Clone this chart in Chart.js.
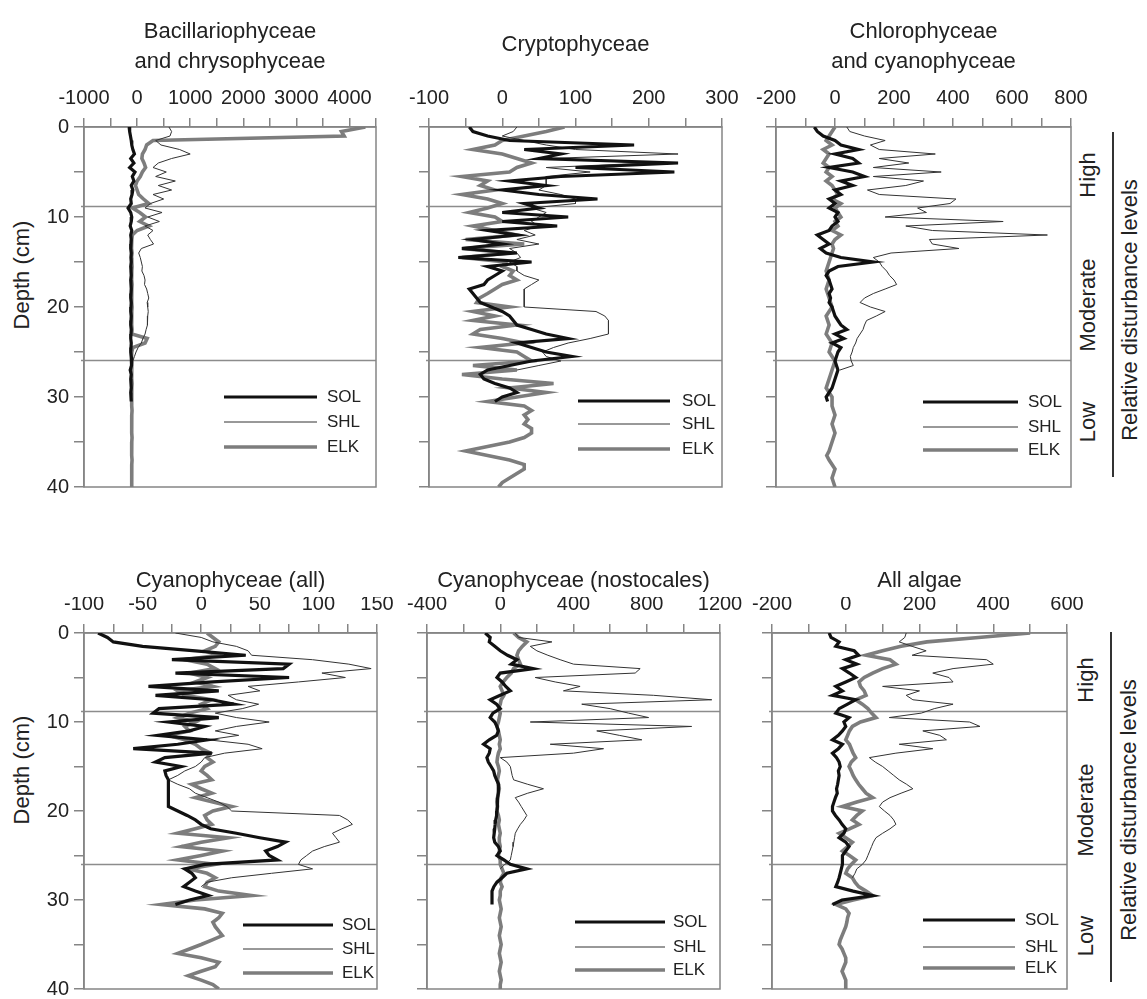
<!DOCTYPE html>
<html><head><meta charset="utf-8">
<script src="https://cdn.jsdelivr.net/npm/chart.js@4.4.0/dist/chart.umd.min.js"></script>
<style>
html,body{margin:0;padding:0;background:#fff;}
#wrap{position:relative;width:1147px;height:999px;overflow:hidden;background:#fff;font-family:"Liberation Sans",Arial,Helvetica,sans-serif;color:#222;}
#wrap canvas{position:absolute;}
.rot{position:absolute;white-space:nowrap;transform:translate(-50%,-50%) rotate(-90deg);line-height:1;}
.vline{position:absolute;width:2px;background:#333;}
</style></head><body><div id="wrap">
<div class="rot" style="left:22px;top:275px;font-size:22px;">Depth (cm)</div>
<div class="rot" style="left:22px;top:770px;font-size:22px;">Depth (cm)</div>
<div class="rot" style="left:1088px;top:175px;font-size:22px;">High</div>
<div class="rot" style="left:1088px;top:305px;font-size:22px;">Moderate</div>
<div class="rot" style="left:1088px;top:422px;font-size:22px;">Low</div>
<div class="rot" style="left:1130px;top:310px;font-size:22px;">Relative disturbance levels</div>
<div class="vline" style="left:1112px;top:132px;height:345px;"></div>
<div class="rot" style="left:1086px;top:680px;font-size:22px;">High</div>
<div class="rot" style="left:1086px;top:810px;font-size:22px;">Moderate</div>
<div class="rot" style="left:1086px;top:936px;font-size:22px;">Low</div>
<div class="rot" style="left:1129px;top:810px;font-size:22px;">Relative disturbance levels</div>
<div class="vline" style="left:1110px;top:632px;height:350px;"></div>
</div>
<script>
// ---------- data ----------
const depthSOL=[0,0.5,1,1.5,2,2.5,3,3.5,4,4.5,5,5.5,6,6.5,7,7.5,8,8.5,9,9.5,10,10.5,11,11.5,12,12.5,13,13.5,14,14.5,15,15.5,16,16.5,17,17.5,18,18.5,19,19.5,20,20.5,21,21.5,22,22.5,23,23.5,24,24.5,25,25.5,26,26.5,27,27.5,28,28.5,29,29.5,30,30.5];
const depthSHL=[0,0.5,1,1.5,2,2.5,3,3.5,4,4.5,5,5.5,6,6.5,7,7.5,8,8.5,9,9.5,10,10.5,11,11.5,12,12.5,13,13.5,14,14.5,15,15.5,16,16.5,17,17.5,18,18.5,19,19.5,20,20.5,21,21.5,22,22.5,23,23.5,24,24.5,25,25.5,26,26.5,27,27.5,28,28.5];
const depthELK=[0,0.5,1,1.5,2,2.5,3,3.5,4,4.5,5,5.5,6,6.5,7,7.5,8,8.5,9,9.5,10,10.5,11,11.5,12,12.5,13,13.5,14,14.5,15,15.5,16,16.5,17,17.5,18,18.5,19,19.5,20,20.5,21,21.5,22,22.5,23,23.5,24,24.5,25,25.5,26,26.5,27,27.5,28,28.5,29,29.5,30,30.5,31,31.5,32,32.5,33,33.5,34,34.5,35,35.5,36,36.5,37,37.5,38,38.5,39,39.5,40];
const zoneDepths=[8.8,25.9];
const seriesNames=['SOL','SHL','ELK'];

// Bacillariophyceae and chrysophyceae
const bacSOL=[-150,-140,-125,-110,-100,-80,-50,-120,-60,-140,
-40,-90,-60,-110,-80,-95,-120,-110,-170,-120,
-100,-110,-130,-100,-120,-110,-115,-120,-110,-115,
-110,-120,-115,-110,-120,-115,-110,-115,-120,-110,
-115,-120,-110,-115,-120,-110,-115,-120,-110,-115,
-120,-110,-100,-110,-130,-110,-120,-115,-110,-120,
-115,-110];
const bacSHL=[600,650,620,350,450,800,1000,650,400,300,
550,350,720,400,650,300,500,250,150,470,
200,420,150,300,200,250,310,80,30,60,
80,100,90,130,150,140,180,200,220,190,
200,210,200,190,200,170,150,110,80,20,
-20,-50,-80];
const bacELK=[4300,3850,3900,300,180,150,100,90,130,160,
100,60,0,-30,0,30,120,220,-90,50,
160,50,220,0,-90,-100,-110,-100,-95,-105,
-100,-95,-100,-105,-100,-95,-100,-100,-105,-100,
-95,-100,-100,-105,-100,-95,-100,190,150,-80,
-100,-105,-95,-100,-100,-105,-100,-95,-100,-100,
-100,-105,-100,-95,-100,-100,-105,-100,-100,-95,
-100,-100,-105,-100,-95,-100,-100,-105,-100,-100,
-100];

// Cryptophyceae
const crySOL=[-45,-40,-20,10,180,30,80,50,240,100,
235,80,10,60,0,50,130,30,50,0,
90,0,75,-20,20,-40,0,-55,20,-60,
40,-20,0,-10,-20,-25,-45,-40,-35,-30,
-15,0,10,15,20,40,60,90,20,40,
60,95,40,10,-20,-30,-25,-10,10,20,
0,-10];
const crySHL=[20,15,0,30,60,100,240,60,200,60,
120,60,60,60,50,80,100,100,40,60,
50,40,50,30,45,20,50,10,20,25,
10,20,20,30,50,40,30,30,30,30,
30,128,140,145,145,145,145,120,90,70,
55,60,80,50,20];
const cryELK=[85,60,30,0,-10,-40,0,20,40,20,
10,-55,-20,-30,-10,-55,-20,0,-20,-45,
-10,0,-40,-10,20,-50,30,-55,10,-55,
5,0,15,10,20,0,-10,-20,-31,-35,
10,-40,-10,-40,20,-30,-40,0,30,-30,
20,30,40,-40,20,-55,0,70,10,60,
20,-20,30,40,30,35,30,40,40,30,
10,-20,-50,-20,10,30,30,20,10,0,
-5];

// Chlorophyceae and cyanophyceae
const chlSOL=[-70,-60,-40,0,20,80,0,60,80,-20,
60,100,20,60,0,20,-20,0,-20,10,
0,10,-10,-20,-60,-40,-20,-50,-30,20,
130,10,-20,-30,-20,-15,-10,-20,-15,-20,
-10,-5,0,10,20,40,0,30,-10,20,
10,5,0,5,10,5,0,-5,-10,-20,
-30,-25];
const chlSHL=[40,50,100,170,120,150,340,150,250,130,
360,130,300,240,110,150,410,390,280,310,
170,570,240,330,720,320,330,420,190,130,
150,160,175,185,200,209,170,130,100,85,
120,170,140,107,100,95,85,75,70,62,
58,52,55,62,17];
const chlELK=[0,-10,-20,-30,-10,-40,-20,-30,-40,-20,
-30,-10,-30,-10,0,10,-10,20,0,10,
20,0,10,-10,20,0,-10,-5,-10,-15,
-20,-25,-30,-25,-20,-25,-30,-25,-20,-15,
-10,-20,-30,-25,-20,-25,-30,-20,-10,-15,
-20,-10,0,-5,-10,-15,-20,-25,-30,-20,
-10,-10,-10,-5,0,-5,-10,-5,0,-5,
-10,-15,-20,-28,-20,-10,0,-5,-10,-5,
0];

// Cyanophyceae (all)
const caSOL=[-88,-80,-75,-50,-5,38,-25,75,70,-22,
75,10,-45,15,-39,9,28,-36,-41,15,
-28,3,-10,-37,5,-20,-58,9,-31,-39,
-17,-31,-30,-28,-28,-28,-28,-28,-28,-28,
-20,-12,-5,0,8,30,50,72,65,55,
58,65,3,-14,-8,-5,-10,-15,-5,6,
-10,-22];
const caSHL=[-22,0,10,30,40,43,95,126,145,103,
123,83,40,50,23,30,49,35,12,30,
58,30,12,32,6,40,52,20,3,0,
-5,-14,-20,-28,-20,-10,-5,5,15,22,
26,118,125,129,120,112,115,118,105,95,
90,85,83,95,60,26,5,0];
const caELK=[5,10,15,12,3,15,-14,5,12,-10,
5,-5,10,-20,-14,9,0,5,-10,-20,
-5,-14,-10,-28,-14,-5,0,8,5,10,
3,0,5,9,-8,0,9,-5,10,26,
10,3,5,9,-5,-20,23,0,-17,18,
0,-20,12,-11,5,12,5,3,15,43,
-5,-34,3,18,15,10,12,15,18,9,
0,-10,-20,0,15,12,0,-11,0,10,
15];

// Cyanophyceae (nostocales)
const nsSOL=[-82,-55,-60,-30,0,40,91,60,180,0,
-18,10,30,55,0,-55,-20,0,-40,-55,
-30,-18,-10,-20,-60,-91,-55,-60,-73,-65,
-50,-36,-30,-20,-9,-9,-12,-14,-15,-16,
-18,-20,-25,-28,-30,-33,-36,-30,-10,0,
-18,20,55,145,36,10,-18,-35,-45,-45,
-45,-45];
const nsSHL=[82,100,282,164,200,260,327,400,764,737,
191,300,436,345,836,1155,445,600,700,810,
164,1045,527,650,773,273,564,400,0,36,
55,60,65,73,150,236,150,82,100,115,
130,145,130,110,95,82,78,74,70,65,
60,55,25,0];
const nsELK=[73,100,145,120,100,91,100,110,73,60,
36,15,0,10,20,5,0,-10,0,-5,
-10,-18,-10,-5,0,-5,0,-10,-15,-18,
-10,-5,-10,-15,-10,-5,-10,-15,-18,-15,
-18,-10,-5,-10,-5,0,-5,-5,0,-5,
-10,0,0,10,20,5,0,10,0,0,
-5,0,5,0,-5,0,5,0,-5,0,
5,0,-5,0,5,0,-5,0,5,0,
0];

// All algae
const alSOL=[-45,-40,-18,-27,23,35,0,30,-9,10,
27,0,-27,-9,-36,27,5,-18,-27,9,
-5,0,-9,-20,-36,-9,-20,-36,-25,-18,
-15,-20,-18,-20,-22,-25,-23,-28,-32,-36,
-36,-28,-18,-10,0,-5,-18,0,9,0,
-9,-9,-9,-12,-15,-18,-22,-27,20,73,
-10,-36];
const alSHL=[164,160,145,180,218,180,382,400,291,236,
280,291,100,200,164,182,291,240,205,118,
336,364,209,255,273,145,236,136,64,80,
100,115,130,145,165,182,150,120,100,91,
105,120,130,136,120,100,82,75,70,65,
60,55,45,30,25,18];
const alELK=[500,360,220,150,100,55,120,136,100,73,
50,36,40,50,55,27,45,60,70,82,
40,18,10,5,0,10,15,20,27,15,
9,15,20,27,35,45,55,73,30,-9,
45,30,18,36,10,-18,0,18,5,-9,
10,27,15,5,0,18,25,35,55,73,
20,-27,0,9,5,3,0,-5,-10,-15,
-18,-10,-5,0,0,-5,-10,-5,0,0,
0];

// ---------- drawing ----------
const FONT='"Liberation Sans", Arial, Helvetica, sans-serif';
const TXT='#222';
const AXIS='#858585';
const styles=[
  {color:'#111111',width:3.2},
  {color:'#333333',width:1},
  {color:'#7d7d7d',width:3.6}
];

const framePlugin={
  id:'frame',
  beforeDatasetsDraw(chart,args,opts){
    const {ctx,chartArea:a,scales}=chart;
    ctx.save();
    ctx.strokeStyle=opts.zoneColor;ctx.lineWidth=1.5;
    opts.zones.forEach(d=>{const py=Math.round(scales.y.getPixelForValue(d))+0.5;ctx.beginPath();ctx.moveTo(a.left-3,py);ctx.lineTo(a.right,py);ctx.stroke();});
    ctx.strokeStyle=opts.color;ctx.lineWidth=1.5;
    ctx.strokeRect(a.left,a.top,a.right-a.left,a.bottom-a.top);
    ctx.restore();
  }
};
const legendPlugin={
  id:'insideLegend',
  afterDatasetsDraw(chart,args,opts){
    const {ctx,chartArea:a}=chart;
    ctx.save();
    chart.data.datasets.forEach((ds,i)=>{
      const y=a.bottom+opts.rows[i];
      ctx.beginPath();ctx.strokeStyle=ds.borderColor;ctx.lineWidth=ds.borderWidth;
      ctx.moveTo(a.right+opts.x0,y);ctx.lineTo(a.right+opts.x1,y);ctx.stroke();
      ctx.fillStyle=TXT;ctx.font=opts.font;ctx.textBaseline='middle';ctx.textAlign='left';
      ctx.fillText(ds.label,a.right+opts.tx,y);
    });
    ctx.restore();
  }
};

const wrap=document.getElementById('wrap');
function makeSet(name,depth,vals,st){
  return {label:name,data:vals.map((v,i)=>({x:v,y:depth[i]})),borderColor:st.color,borderWidth:st.width,
    pointRadius:0,showLine:true,fill:false,tension:0};
}
function panel(o){
  const LH=30;
  const yW=o.yLabels?o.l:10;
  const padL=o.yLabels?0:20;
  const canvasLeft=o.l-yW-padL;
  const padR=26,padB=o.padB;
  const w=o.r+padR-canvasLeft;
  const h=o.b+padB-o.top;
  const cv=document.createElement('canvas');
  cv.width=w;cv.height=h;cv.style.left=canvasLeft+'px';cv.style.top=o.top+'px';cv.style.width=w+'px';cv.style.height=h+'px';
  wrap.appendChild(cv);
  const lines=o.title.length;
  const pb=o.titleH-o.pt-lines*LH;
  const xH=o.t-o.top-o.titleH;
  new Chart(cv,{
    type:'scatter',
    data:{datasets:[
      makeSet(seriesNames[0],depthSOL,o.sol,styles[0]),
      makeSet(seriesNames[1],depthSHL,o.shl,styles[1]),
      makeSet(seriesNames[2],depthELK,o.elk,styles[2])
    ]},
    options:{
      responsive:false,animation:false,events:[],
      layout:{padding:{left:padL,right:padR,top:0,bottom:padB}},
      plugins:{
        legend:{display:false},tooltip:{enabled:false},
        title:{display:true,text:o.title,fullSize:false,color:TXT,font:{family:FONT,size:22,weight:'normal',lineHeight:LH+'px'},padding:{top:o.pt,bottom:pb}},
        frame:{color:AXIS,zoneColor:'#8c8c8c',zones:zoneDepths},
        insideLegend:Object.assign({font:'17px '+FONT},o.leg)
      },
      scales:{
        x:{type:'linear',position:'top',min:o.xmin,max:o.xmax,
          ticks:{stepSize:o.xstep,autoSkip:false,maxRotation:0,minRotation:0,padding:8,color:TXT,
            font:{family:FONT,size:20},
            callback:v=>(Math.abs(v%o.xlab)<1e-6?String(v):'')},
          grid:{drawOnChartArea:false,drawTicks:true,tickLength:9,color:AXIS,lineWidth:1.5},
          border:{display:true,color:AXIS,width:1.5},
          afterFit:s=>{s.height=xH;s.paddingLeft=0;s.paddingRight=0;}
        },
        y:{type:'linear',position:'left',reverse:true,min:0,max:40,
          ticks:{stepSize:5,autoSkip:false,padding:5,color:TXT,font:{family:FONT,size:20},
            callback:v=>(o.yLabels&&v%10===0?String(v):'')},
          grid:{drawOnChartArea:false,drawTicks:true,tickLength:10,color:AXIS,lineWidth:1.5},
          border:{display:true,color:AXIS,width:1.5},
          afterFit:s=>{s.width=yW;s.paddingTop=0;s.paddingBottom=0;}
        }
      }
    },
    plugins:[framePlugin,legendPlugin]
  });
}

const TOP=0,BOT=545;
panel({title:['Bacillariophyceae','and chrysophyceae'],sol:bacSOL,shl:bacSHL,elk:bacELK,
  xmin:-1000,xmax:4500,xstep:500,xlab:1000,l:84,r:376,t:127,b:487,top:TOP,padB:12,titleH:77,pt:17,yLabels:true,
  leg:{x0:-152,x1:-59,tx:-49,rows:[-90,-65,-40]}});
panel({title:['Cryptophyceae'],sol:crySOL,shl:crySHL,elk:cryELK,
  xmin:-100,xmax:300,xstep:50,xlab:100,l:429,r:722,t:127,b:487,top:TOP,padB:12,titleH:77,pt:30,yLabels:false,
  leg:{x0:-144,x1:-52,tx:-40,rows:[-86,-63,-38]}});
panel({title:['Chlorophyceae','and cyanophyceae'],sol:chlSOL,shl:chlSHL,elk:chlELK,
  xmin:-200,xmax:800,xstep:100,xlab:200,l:776,r:1071,t:127,b:487,top:TOP,padB:12,titleH:77,pt:17,yLabels:false,
  leg:{x0:-148,x1:-53,tx:-43,rows:[-85,-60,-37]}});
panel({title:['Cyanophyceae (all)'],sol:caSOL,shl:caSHL,elk:caELK,
  xmin:-100,xmax:150,xstep:25,xlab:50,l:84,r:377,t:633,b:989,top:BOT,padB:10,titleH:52,pt:21,yLabels:true,
  leg:{x0:-134,x1:-44,tx:-35,rows:[-64,-40,-16]}});
panel({title:['Cyanophyceae (nostocales)'],sol:nsSOL,shl:nsSHL,elk:nsELK,
  xmin:-400,xmax:1200,xstep:200,xlab:400,l:427,r:720,t:633,b:989,top:BOT,padB:10,titleH:52,pt:21,yLabels:false,
  leg:{x0:-145,x1:-55,tx:-47,rows:[-67,-42,-19]}});
panel({title:['All algae'],sol:alSOL,shl:alSHL,elk:alELK,
  xmin:-200,xmax:600,xstep:100,xlab:200,l:772,r:1067,t:633,b:989,top:BOT,padB:10,titleH:52,pt:21,yLabels:false,
  leg:{x0:-144,x1:-52,tx:-42,rows:[-69,-42,-21]}});
</script>
</body></html>
